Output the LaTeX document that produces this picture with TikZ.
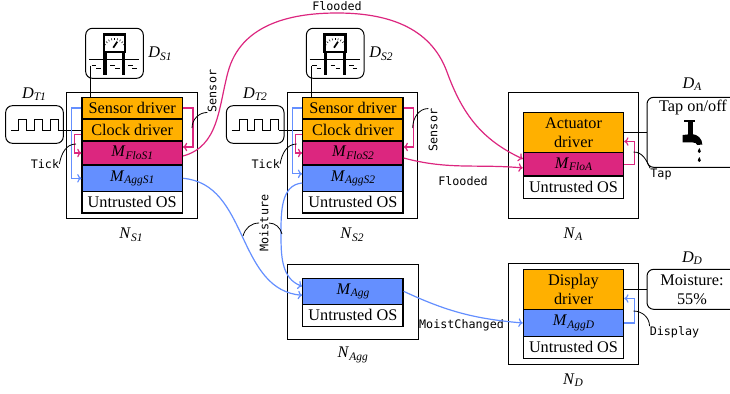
\documentclass[tikz,border=0pt]{standalone}
\usepackage{fontspec}
\setmainfont{Liberation Serif}
\setmonofont{DejaVu Sans Mono}
\usetikzlibrary{calc, arrows.meta}
\definecolor{drvOrange}{HTML}{FFB000}
\definecolor{floPink}{HTML}{DC267F}
\definecolor{aggBlue}{HTML}{648FFF}
\newcommand{\labsub}[2]{\textit{#1}\raisebox{-0.35ex}{\fontsize{8.6}{10}\selectfont\textit{#2}}}
\newcommand{\gaugeicon}[1]{
    \begin{scope}[shift={(#1,0)}]
        \draw[line width=2pt, fill=white] (104,-34.5) rectangle (125,-52);
        \draw[line width=2.6pt] (105,-53) -- (105,-75);
        \draw[line width=2.6pt] (123.7,-53) -- (123.7,-75);
        \draw[line width=0.6pt] (89,-59.3) -- (139,-59.3);
        \draw[line width=1.3pt] (113.3,-47.7) -- (117.3,-41.7);
        \foreach \tx in {-60,-45,-30,-15,0,15,30,45,60}
            \draw[line width=0.4pt] ($(114.5,-50)+(90+\tx:10)$) -- ($(114.5,-50)+(90+\tx:12)$);
        \foreach \dx/\dy in {91.7/-65.7,96/-68.3,110/-65.7,115/-68.3,128.3/-65.7,132/-68.3}
            \draw[line width=0.7pt] (\dx,\dy) -- ++(4.5,0);
    \end{scope}
}
\newcommand{\waveicon}[1]{
    \draw[line width=0.75pt, shift={(#1,0)}] (11,-130) -| (18.3,-119) -| (26.7,-130) -| (34,-119) -| (42,-130) -| (50,-119) -| (58,-130);
}
\begin{document}
\begin{tikzpicture}[x=0.75pt, y=0.75pt, >={To[length=3.2pt,width=6.4pt]},
    every node/.style={font=\fontsize{12.2}{14.3}\selectfont},
    outerStyle/.style={rectangle, draw, line width=0.75pt, minimum width=98pt},
    driverStyle/.style={rectangle, draw, line width=0.9pt, fill=drvOrange, minimum width=75.2pt, align=center, inner sep=0},
    floStyle/.style={driverStyle, fill=floPink},
    aggStyle/.style={driverStyle, fill=aggBlue},
    osStyle/.style={driverStyle, fill=white},
    deviceStyle/.style={rectangle, draw, line width=0.75pt, rounded corners=5pt, minimum width=43.2pt, align=center, inner sep=0},
    monoStyle/.style={font=\fontsize{8.8}{10}\selectfont\ttfamily, inner sep=0},
    floLine/.style={draw=floPink, line width=0.9pt},
    aggLine/.style={draw=aggBlue, line width=0.9pt},
    callStyle/.style={line width=0.6pt}]
    \useasboundingbox (0,0) rectangle (730,-393);

    \node[outerStyle, minimum height=95pt] (s1_box) at (131.8,-155.5) {};
    \node[driverStyle, minimum height=15.9pt] (s1_sensor) at (132.2,-108) {Sensor driver};
    \node[driverStyle, minimum height=16.5pt] (s1_clock)  at (132.2,-130) {Clock driver};
    \node[floStyle, minimum height=18pt]      (s1_flo)    at (132.2,-153) {\labsub{M}{FloS1}};
    \node[aggStyle, minimum height=20pt]      (s1_agg)    at (132.2,-178.3) {\labsub{M}{AggS1}};
    \node[osStyle, minimum height=16pt]       (s1_os)     at (132.2,-202.3) {Untrusted OS};

    \node[outerStyle, minimum height=95pt] (s2_box) at (131.8 + 220.7,-155.5) {};
    \node[driverStyle, minimum height=15.9pt] (s2_sensor) at (132.2 + 220.7,-108) {Sensor driver};
    \node[driverStyle, minimum height=16.5pt] (s2_clock)  at (132.2 + 220.7,-130) {Clock driver};
    \node[floStyle, minimum height=18pt]      (s2_flo)    at (132.2 + 220.7,-153) {\labsub{M}{FloS2}};
    \node[aggStyle, minimum height=20pt]      (s2_agg)    at (132.2 + 220.7,-178.3) {\labsub{M}{AggS2}};
    \node[osStyle, minimum height=16pt]       (s2_os)     at (132.2 + 220.7,-202.3) {Untrusted OS};

    \node[outerStyle, minimum height=94.5pt] (a_box) at (573.6,-155.3) {};
    \node[driverStyle, minimum height=30.3pt] (a_drv) at (573.5,-132.5) {Actuator\\driver};
    \node[floStyle, minimum height=17.5pt]    (a_flo) at (573.5,-164.4) {\labsub{M}{FloA}};
    \node[osStyle, minimum height=16.5pt]     (a_os)  at (573.5,-187.2) {Untrusted OS};

    \node[outerStyle, minimum height=75.2pt] (d_box) at (573.6,-313.9) {};
    \node[driverStyle, minimum height=30.3pt] (d_drv) at (573.5,-289.5) {Display\\driver};
    \node[aggStyle, minimum height=20pt]      (d_agg) at (573.5,-323) {\labsub{M}{AggD}};
    \node[osStyle, minimum height=16.5pt]     (d_os)  at (573.5,-347.3) {Untrusted OS};

    \node[outerStyle, minimum height=56.5pt] (g_box) at (352.8,-302.3) {};
    \node[aggStyle, minimum height=19.5pt]    (g_agg) at (352.9,-291.3) {\labsub{M}{Agg}};
    \node[osStyle, minimum height=16.5pt]     (g_os)  at (352.9,-315.3) {Untrusted OS};

    \node[deviceStyle, minimum height=37.5pt] (s1_dev) at (114.5,-53.3) {};
    \node[deviceStyle, minimum height=28.2pt] (t1_dev) at (34.5,-124.5) {};
    \node[deviceStyle, minimum height=37.5pt] (s2_dev) at (114.5 + 220.7,-53.3) {};
    \node[deviceStyle, minimum height=28.2pt] (t2_dev) at (34.5 + 220.7,-124.5) {};
    \node[deviceStyle, minimum width=67.5pt, minimum height=52.5pt] (a_dev) at (692,-132.3) {};
    \node[deviceStyle, minimum width=67.5pt, minimum height=30pt] (d_dev) at (692,-289.3) {Moisture:\\55\%};
    \node (a_dev_txt) at (693,-108) {Tap on/off};

    \gaugeicon{0}
    \gaugeicon{220.7}
    \waveicon{0}
    \waveicon{220.7}
    \fill (684,-120) rectangle (695,-122);
    \fill (688.3,-120) rectangle (692.7,-135);
    \fill (682.7,-135) -- (692,-134) .. controls (698,-134.5) and (702.3,-139) .. (702.3,-144.5) -- (697.3,-145) .. controls (697,-143.5) and (695,-142.3) .. (692,-142.3) -- (682.7,-142.3) -- cycle;
    \fill (699.3,-148) .. controls (697.5,-151) and (697,-153) .. (699.3,-153) .. controls (701.6,-153) and (701,-151) .. (699.3,-148);
    \fill (699.3,-157) .. controls (697.5,-160) and (697,-162) .. (699.3,-162) .. controls (701.6,-162) and (701,-160) .. (699.3,-157);

    \node (s1_dev_lbl) at (160,-54) {\labsub{D}{S1}};
    \node (t1_dev_lbl) at (34,-94) {\labsub{D}{T1}};
    \node (s1_box_lbl) at (131,-235) {\labsub{N}{S1}};
    \node (s2_dev_lbl) at (381,-54) {\labsub{D}{S2}};
    \node (t2_dev_lbl) at (255,-94) {\labsub{D}{T2}};
    \node (s2_box_lbl) at (352,-235) {\labsub{N}{S2}};
    \node (a_box_lbl) at (573,-234) {\labsub{N}{A}};
    \node (a_dev_lbl) at (692,-84) {\labsub{D}{A}};
    \node (g_box_lbl) at (352.7,-355) {\labsub{N}{Agg}};
    \node (d_box_lbl) at (573,-380) {\labsub{N}{D}};
    \node (d_dev_lbl) at (692,-258) {\labsub{D}{D}};

    \node[monoStyle] (s1_tick_lbl) at (45,-164) {Tick};
    \node[monoStyle] (s2_tick_lbl) at (45 + 220.7,-164) {Tick};
    \node[monoStyle, rotate=90] (s1_sensor_lbl) at (212,-91) {Sensor};
    \node[monoStyle, rotate=90] (s2_sensor_lbl) at (433,-130) {Sensor};
    \node[monoStyle, rotate=90] (moist_lbl) at (264,-223) {Moisture};
    \node[monoStyle] (flood_top_lbl) at (337,-6.5) {Flooded};
    \node[monoStyle] (flood_low_lbl) at (463,-181) {Flooded};
    \node[monoStyle] (changed_lbl) at (461.5,-325) {MoistChanged};
    \node[monoStyle] (tap_lbl) at (661,-174) {Tap};
    \node[monoStyle] (display_lbl) at (674.5,-332) {Display};

    \coordinate (s1_probe) at (90.7,-65.5);
    \coordinate (s2_probe) at (90.7 + 220.7,-65.5);
    \coordinate (t1_wave) at (58,-130);
    \coordinate (t2_wave) at (58 + 220.7,-130);
    \coordinate (flood_a) at (228,-72);
    \coordinate (flood_b) at (337,-13);
    \coordinate (flood_c) at (447,-72);
    \coordinate (agg_mid) at (243,-238);
    \coordinate (agg2_mid) at (281,-233);

    \draw[line width=0.75pt] (s1_probe) -- (s1_probe |- s1_sensor.north);
    \draw[line width=0.75pt] (s2_probe) -- (s2_probe |- s2_sensor.north);
    \draw[line width=0.75pt] (t1_wave) -- (s1_clock.west);
    \draw[line width=0.75pt] (t2_wave) -- (s2_clock.west);
    \draw[line width=0.75pt] (a_drv.east) -- (a_drv.east -| a_dev.west);
    \draw[line width=0.75pt] (d_drv.east) -- (d_drv.east -| d_dev.west);

    \draw[aggLine, ->] (s1_sensor.west) -- ++(-10,0) |- (s1_agg.west);
    \draw[aggLine, ->] (s2_sensor.west) -- ++(-10,0) |- ($(s2_agg.west)+(0,4.5)$);
    \draw[floLine, ->] ($(s1_clock.west)+(0,-4.5)$) -- ++(-7,0) |- (s1_flo.west);
    \draw[floLine, ->] ($(s2_clock.west)+(0,-4.5)$) -- ++(-7,0) |- (s2_flo.west);
    \draw[floLine, ->] (s1_sensor.east) -- ++(10,0) |- ($(s1_flo.east)+(0,6)$);
    \draw[floLine, ->] (s2_sensor.east) -- ++(10,0) |- ($(s2_flo.east)+(0,6)$);
    \draw[floLine, ->] (a_flo.east) -- ++(10,0) |- ($(a_drv.east)+(0,-9)$);
    \draw[aggLine, ->] (d_agg.east) -- ++(10,0) |- ($(d_drv.east)+(0,-9)$);

    \draw[floLine, ->] ($(s1_flo.east)+(0,-3)$) to[out=15, in=-105] (flood_a) to[out=75, in=180] (flood_b) to[out=0, in=110] (flood_c) to[out=-70, in=155] ($(a_flo.west)+(0,5.5)$);
    \draw[floLine, ->] ($(s2_flo.east)+(0,-5)$) to[out=-15, in=175] ($(a_flo.west)+(0,-3.5)$);
    \draw[aggLine, ->] (s1_agg.east) to[out=-5, in=115] (agg_mid) to[out=-65, in=175] ($(g_agg.west)+(0,-4)$);
    \draw[aggLine, ->] ($(s2_agg.west)+(0,-4.7)$) to[out=185, in=90] (agg2_mid) to[out=-90, in=160] ($(g_agg.west)+(0,5)$);
    \draw[aggLine, ->] (g_agg.east) to[out=-25, in=175] (d_agg.west);

    \coordinate (s1_tick_pt) at (76,-144);
    \coordinate (s2_tick_pt) at (76 + 220.7,-144);
    \coordinate (s1_sensor_pt) at (192,-128);
    \coordinate (s2_sensor_pt) at (412.7,-128);
    \coordinate (moist_left) at (243,-236);
    \coordinate (moist_right) at (282,-234);
    \coordinate (tap_pt) at (633.5,-152);
    \coordinate (display_pt) at (633.5,-311);
    \draw[callStyle] (s1_tick_lbl.east) to[out=80, in=180] (s1_tick_pt);
    \draw[callStyle] (s2_tick_lbl.east) to[out=80, in=180] (s2_tick_pt);
    \draw[callStyle] (s1_sensor_lbl.north west) to[out=180, in=90] (s1_sensor_pt);
    \draw[callStyle] (s2_sensor_lbl.north east) to[out=180, in=90] (s2_sensor_pt);
    \draw[callStyle] (moist_lbl.north) to[out=180, in=75] (moist_left);
    \draw[callStyle] (moist_lbl.south) to[out=0, in=105] (moist_right);
    \draw[callStyle] (tap_pt) to[out=0, in=115] (tap_lbl.north west);
    \draw[callStyle] (display_pt) to[out=0, in=90] (display_lbl.north west);
\end{tikzpicture}
\end{document}
